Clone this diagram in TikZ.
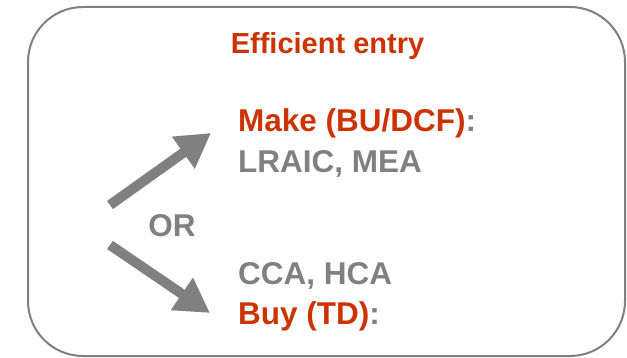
\documentclass[tikz,border=0pt]{standalone}
\usepackage{fontspec}
\setmainfont{Liberation Sans}
\usetikzlibrary{arrows.meta}
\definecolor{redt}{HTML}{CC3300}
\definecolor{grayt}{HTML}{808080}
\tikzset{
  lbl/.style={anchor=base west, inner sep=0pt, font=\bfseries\fontsize{31.5}{31.5}\selectfont},
  bigarrow/.style={draw=grayt, line width=10pt, -{Triangle[length=34pt,width=37pt]}, fill=grayt}
}
\begin{document}
\begin{tikzpicture}[x=1pt,y=-1pt]
\useasboundingbox (0,0) rectangle (627,358);
\draw[grayt, line width=2pt, rounded corners=55pt] (28,7) rectangle (625,356);
\node[inner sep=0pt, anchor=base, text=redt, font=\bfseries\fontsize{29}{29}\selectfont] (title) at (327.5,54) {Efficient entry};
\node[lbl, text=redt] (make) at (238,132) {Make (BU/DCF)\textcolor{grayt}{:}};
\node[lbl, text=grayt] (lraic) at (238,173) {LRAIC, MEA};
\node[lbl, text=grayt, anchor=base] (or) at (172,237) {OR};
\node[lbl, text=grayt] (cca) at (238,285) {CCA, HCA};
\node[lbl, text=redt] (buy) at (238,324) {Buy (TD)\textcolor{grayt}{:}};
\coordinate (s1) at (110,205);
\coordinate (t1) at (211,133);
\coordinate (s2) at (110,245);
\coordinate (t2) at (210,313);
\draw[bigarrow] (s1) -- (t1);
\draw[bigarrow] (s2) -- (t2);
\end{tikzpicture}
\end{document}
